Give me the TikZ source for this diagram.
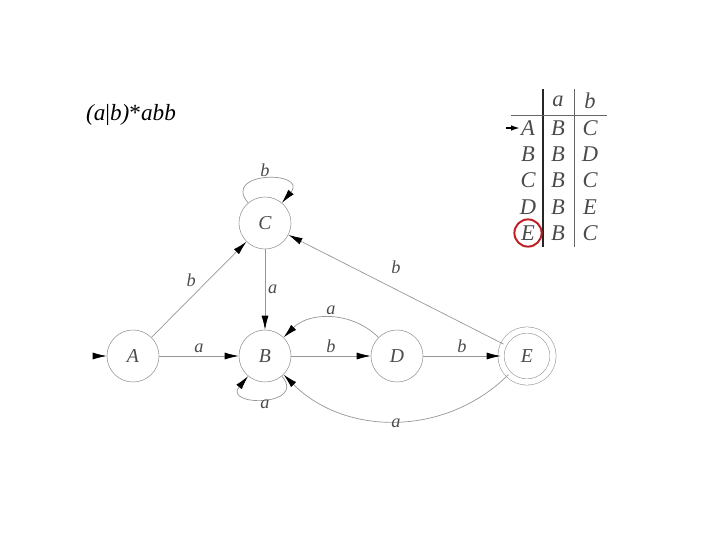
\documentclass[tikz,border=0pt]{standalone}
\usepackage{fontspec}
\setmainfont{Liberation Serif}
\usetikzlibrary{arrows.meta,positioning}
\definecolor{edgegray}{RGB}{150,150,150}
\definecolor{textgray}{RGB}{75,75,75}
\definecolor{markred}{RGB}{190,30,35}

\begin{document}
\begin{tikzpicture}[x=0.025cm,y=-0.025cm,
  state/.style={circle,draw=edgegray,minimum size=1.3cm,inner sep=0pt,text=textgray,font=\fontsize{14}{16}\selectfont\itshape},
  trans/.style={draw=edgegray,line width=0.5pt,-{Latex[length=10pt,width=5pt,color=black]}},
  lbl/.style={text=textgray,font=\fontsize{13}{15}\selectfont\itshape,inner sep=2pt},
  cell/.style={text=textgray,font=\fontsize{16}{18}\selectfont\itshape,inner sep=1pt}]
\useasboundingbox (0,0) rectangle (720,540);
% regular expression
\node[font=\fontsize{16.5}{18}\selectfont] (regex) at (131,115) {{\itshape (a}|{\itshape b)}*{\itshape abb}};
% states
\node[state] (A) at (133,356) {A};
\node[state] (B) at (265,356) {B};
\node[state] (C) at (265,223) {C};
\node[state] (D) at (397,356) {D};
\node[state,double=white,double distance=4pt] (E) at (527,356) {E};
\coordinate (init) at (93,356);
% transitions
\draw[trans] (init) -- (A);
\draw[trans] (A) -- node[lbl,above]{a} (B);
\draw[trans] (A) -- node[lbl,above left]{b} (C);
\draw[trans] (C) -- node[lbl,right]{a} (B);
\draw[trans] (B) -- node[lbl,above]{b} (D);
\draw[trans] (D) -- node[lbl,above]{b} (E);
\draw[trans] (D) to[bend right=45] node[lbl,above]{a} (B);
\draw[trans] (E) -- node[lbl,above=9pt]{b} (C);
\draw[trans] (E) to[bend left=45] node[lbl,below,inner sep=0pt,yshift=2pt]{a} (B);
\draw[trans] (C) to[out=130,in=50,distance=1.05cm] node[lbl,above,inner sep=1pt]{b} (C);
\draw[trans] (B) to[out=-50,in=-130,distance=1cm] node[lbl,below,inner sep=0pt]{a} (B);
% transition table
\node[cell] (ha) at (558,101) {a};
\node[cell] (hb) at (590,101) {b};
\foreach \r/\y/\na/\nb [count=\i] in {A/128/B/C,B/154/B/D,C/180/B/C,D/207/B/E,E/233/B/C}{
  \node[cell] (r\i) at (528,\y) {\r};
  \node[cell] (a\i) at (558,\y) {\na};
  \node[cell] (b\i) at (590,\y) {\nb};
}
\draw[line width=1.2pt,black!85] (543,89) -- (543,247);
\draw[line width=0.6pt,black!60] (574,89) -- (574,247);
\draw[line width=0.6pt,black!60] (511,115) -- (607,115);
\coordinate (tstart) at (506,128);
\draw[-{Latex[length=6pt,width=4pt]},line width=0.8pt] (tstart) -- (r1.west);
\node[circle,draw=markred,line width=1.4pt,minimum size=0.68cm] (emark) at (r5) {};
\end{tikzpicture}
\end{document}
